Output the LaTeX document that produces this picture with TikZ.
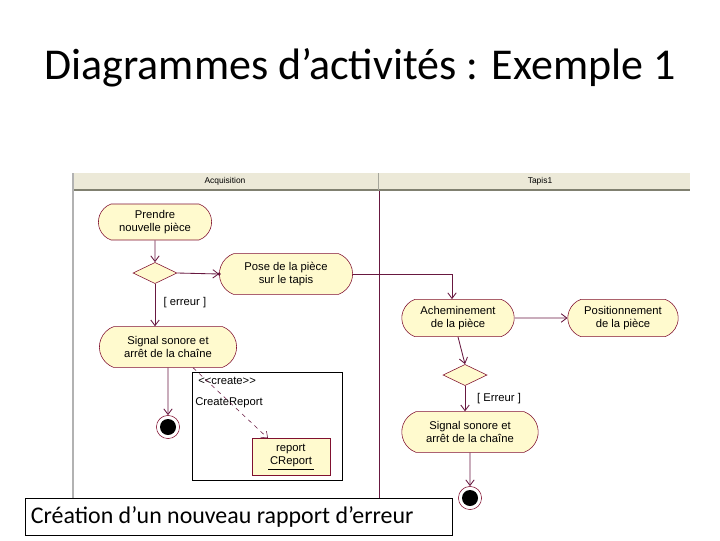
\documentclass[tikz,border=0pt]{standalone}
\usepackage{fontspec}
\setmainfont{Carlito}
\newfontfamily\umlfont{Liberation Sans}
\usetikzlibrary{positioning,shapes.geometric,shapes.misc,arrows.meta,calc}

\definecolor{actfill}{RGB}{255,250,206}
\definecolor{actdraw}{RGB}{128,16,48}
\definecolor{flowcol}{RGB}{104,24,64}
\definecolor{lanehead}{RGB}{236,233,216}
\definecolor{laneedge}{RGB}{128,128,112}

\begin{document}
\begin{tikzpicture}[
    x=0.025cm,
    y=-0.025cm,
    >={Straight Barb[length=4pt,width=6pt]},
    font=\umlfont\fontsize{8}{9.5}\selectfont,
    act/.style={
        draw=actdraw,
        fill=actfill,
        rounded rectangle,
        rounded rectangle arc length=140,
        align=center,
        inner sep=1pt
    },
    decision/.style={
        draw=actdraw,
        fill=actfill,
        diamond,
        inner sep=0pt,
        minimum width=1.1cm,
        minimum height=0.53cm
    },
    endnode/.style={
        draw=actdraw,
        fill=white,
        circle,
        minimum size=0.58cm,
        path picture={\fill[black] (path picture bounding box.center) circle (0.2cm);}
    },
    objbox/.style={
        draw=actdraw,
        fill=actfill,
        align=left,
        minimum width=1.95cm,
        minimum height=0.92cm
    },
    guard/.style={font=\umlfont\fontsize{8}{9.5}\selectfont},
    lanetitle/.style={font=\umlfont\fontsize{6}{7}\selectfont},
    flow/.style={->, draw=flowcol, semithick}
]
\useasboundingbox (0,0) rectangle (720,540);

% title
\node[font=\fontsize{31.3}{34}\selectfont] (title) at (360,68) {Diagrammes d’activités : Exemple 1};

% swimlanes
\fill[lanehead] (72,173) rectangle (690,190);
\draw[laneedge, line width=1.2pt] (72,190) -- (690,190);
\draw[laneedge!70] (378,173) -- (378,190);
\draw[gray!60, line width=1.5pt] (73,173) -- (73,498);
\draw[flowcol, semithick] (379,191) -- (379,498);
\node[lanetitle] (laneA) at (225,181) {Acquisition};
\node[lanetitle] (laneB) at (540,181) {Tapis1};

% lane Acquisition
\node[act, minimum width=2.9cm, minimum height=0.9cm] (take) at (155,222)
{Prendre\\nouvelle pièce};
\node[decision] (dec1) at (155,273) {};
\node[act, minimum width=3.4cm, minimum height=1.02cm] (pose) at (286,274)
{Pose de la pièce\\sur le tapis};
\node[act, minimum width=3.5cm, minimum height=1.02cm] (sigA) at (168,347)
{Signal sonore et\\arrêt de la chaîne};
\node[endnode] (endA) at (168,427) {};

% created object
\node[draw=black, minimum width=3.75cm, minimum height=2.7cm] (createbox) at (267,426) {};
\node[anchor=west, inner sep=0pt] (stereo) at (198,381) {<<create>>};
\node[anchor=west, inner sep=0pt] (createname) at (195,403) {CreateReport};
\node[objbox] (report) at (291,457)
{\hspace{2mm}report\\\underline{\hspace{0.5mm}CReport\hspace{0.5mm}}};

% lane Tapis1
\node[act, minimum width=2.88cm, minimum height=0.93cm] (route) at (458,318)
{Acheminement\\de la pièce};
\node[act, minimum width=2.83cm, minimum height=0.93cm] (place) at (623,318)
{Positionnement\\de la pièce};
\node[decision] (dec2) at (465,375) {};
\node[act, minimum width=3.48cm, minimum height=1.02cm] (sigB) at (470,432)
{Signal sonore et\\arrêt de la chaîne};
\node[endnode] (endB) at (470,498) {};

% guards
\node[guard] (errA) at (185,303) {[ erreur ]};
\node[guard] (errB) at (499,399) {[ Erreur ]};

% flows
\draw[flow] (take) -- (dec1);
\draw[flow] (dec1.east) -- (pose.west);
\fill[flowcol] (pose.west) circle (1.3pt);
\draw[flow] (pose.east) -| ($(route.north)+(-6,0)$);
\draw[flow] (dec1.south) -- (dec1.south |- sigA.north);
\draw[flow] (sigA) -- (endA);
\draw[flow] (route) -- (place);
\draw[flow] (route.south) -- (dec2.north);
\draw[flow] (dec2.south) -- (dec2.south |- sigB.north);
\draw[flow] (sigB) -- (endB);
\draw[flow, dashed, thin] ($(sigA.south)+(25,0)$) -- ($(report.north)+(-23,0)$);

% caption
\node[draw=black, fill=white, inner xsep=0.15cm, minimum height=0.93cm,
      font=\fontsize{17}{20}\selectfont] (caption) at (238.5,516.5)
{\makebox[10.375cm][l]{Création d’un nouveau rapport d’erreur}};

\end{tikzpicture}
\end{document}
